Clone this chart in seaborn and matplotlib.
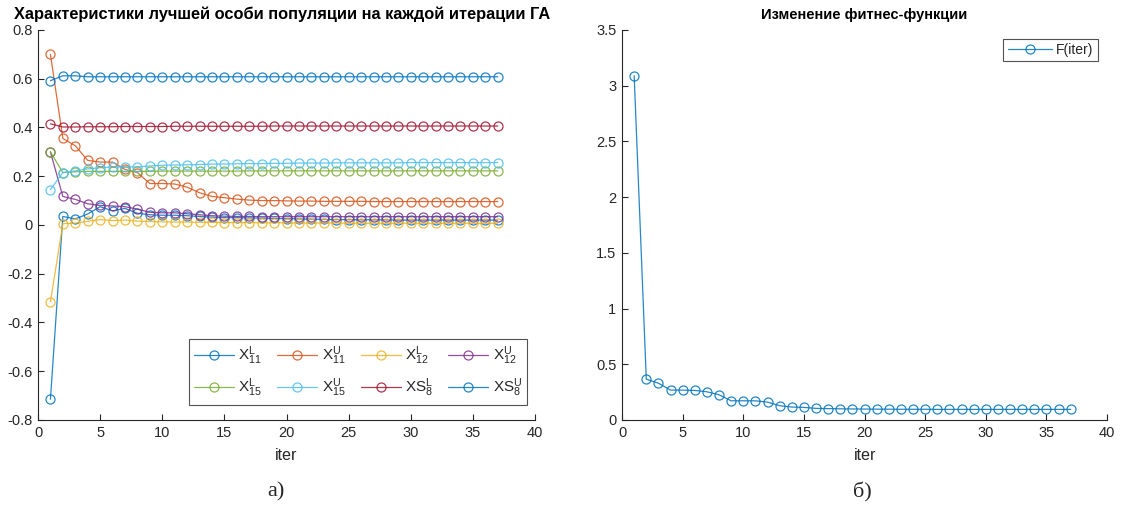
import numpy as np
import pandas as pd
import matplotlib
matplotlib.use("Agg")
import matplotlib.pyplot as plt
import seaborn as sns

iters = list(range(1, 38))

x11L = [-0.715, 0.035, 0.025, 0.045, 0.075, 0.058, 0.068, 0.048, 0.042, 0.040, 0.040, 0.038, 0.035,
        0.032, 0.030, 0.030, 0.029, 0.028, 0.027, 0.026, 0.025, 0.024, 0.023, 0.022, 0.022, 0.021,
        0.021, 0.021, 0.020, 0.020, 0.020, 0.020, 0.020, 0.020, 0.020, 0.020, 0.020]
x11U = [0.700, 0.355, 0.325, 0.265, 0.258, 0.258, 0.228, 0.215, 0.170, 0.170, 0.168, 0.155, 0.132,
        0.117, 0.112, 0.106, 0.102, 0.100, 0.100, 0.099, 0.098, 0.098, 0.097, 0.097, 0.097, 0.097,
        0.096, 0.096, 0.096, 0.096, 0.096, 0.096, 0.096, 0.096, 0.096, 0.096, 0.096]
x12L = [-0.315, 0.005, 0.008, 0.015, 0.022, 0.018, 0.020, 0.016, 0.014, 0.013, 0.012, 0.012, 0.011,
        0.011, 0.010, 0.010, 0.010, 0.009, 0.009, 0.009, 0.008, 0.008, 0.008, 0.008, 0.007, 0.007,
        0.007, 0.007, 0.007, 0.007, 0.007, 0.007, 0.007, 0.007, 0.007, 0.007, 0.007]
x12U = [0.300, 0.117, 0.105, 0.087, 0.080, 0.078, 0.075, 0.065, 0.052, 0.050, 0.050, 0.046, 0.042,
        0.038, 0.036, 0.035, 0.035, 0.034, 0.034, 0.034, 0.034, 0.034, 0.034, 0.034, 0.034, 0.034,
        0.034, 0.034, 0.034, 0.034, 0.034, 0.034, 0.034, 0.034, 0.034, 0.034, 0.034]
x15L = [0.300, 0.215, 0.218, 0.220, 0.220, 0.220, 0.220, 0.220, 0.220, 0.221, 0.221, 0.221, 0.221,
        0.221, 0.221, 0.221, 0.222, 0.222, 0.222, 0.222, 0.222, 0.222, 0.222, 0.222, 0.222, 0.222,
        0.222, 0.222, 0.222, 0.222, 0.222, 0.222, 0.222, 0.222, 0.222, 0.222, 0.222]
x15U = [0.145, 0.215, 0.222, 0.230, 0.235, 0.238, 0.238, 0.238, 0.242, 0.245, 0.246, 0.247, 0.248,
        0.250, 0.250, 0.251, 0.252, 0.252, 0.253, 0.253, 0.254, 0.254, 0.254, 0.255, 0.255, 0.255,
        0.255, 0.255, 0.255, 0.256, 0.256, 0.256, 0.256, 0.256, 0.256, 0.256, 0.256]
xs8L = [0.415, 0.402, 0.402, 0.403, 0.403, 0.403, 0.404, 0.404, 0.404, 0.404, 0.405, 0.405, 0.405,
        0.405, 0.405, 0.405, 0.405, 0.405, 0.406, 0.406, 0.406, 0.406, 0.406, 0.406, 0.406, 0.406,
        0.406, 0.406, 0.406, 0.406, 0.406, 0.406, 0.406, 0.406, 0.406, 0.406, 0.406]
xs8U = [0.592, 0.612, 0.612, 0.608, 0.608, 0.608, 0.608, 0.608, 0.608, 0.608, 0.608, 0.608, 0.608,
        0.608, 0.608, 0.608, 0.608, 0.608, 0.608, 0.608, 0.608, 0.608, 0.608, 0.608, 0.608, 0.608,
        0.608, 0.608, 0.608, 0.608, 0.608, 0.608, 0.608, 0.608, 0.608, 0.608, 0.608]

fitness = [3.09, 0.366, 0.330, 0.268, 0.268, 0.265, 0.253, 0.226, 0.172, 0.172, 0.172, 0.160, 0.128,
           0.116, 0.113, 0.104, 0.102, 0.100, 0.099, 0.098, 0.097, 0.097, 0.096, 0.096, 0.096, 0.095,
           0.095, 0.095, 0.095, 0.095, 0.095, 0.095, 0.095, 0.095, 0.095, 0.095, 0.095]

series_names = [r"X$^{L}_{11}$", r"X$^{U}_{11}$", r"X$^{L}_{12}$", r"X$^{U}_{12}$",
                r"X$^{L}_{15}$", r"X$^{U}_{15}$", r"XS$^{L}_{8}$", r"XS$^{U}_{8}$"]
series_vals = [x11L, x11U, x12L, x12U, x15L, x15U, xs8L, xs8U]
colors = ["#0072BD", "#D95319", "#EDB120", "#7E2F8E", "#77AC30", "#4DBEEE", "#A2142F", "#0072BD"]

title_left = "Характеристики лучшей особи популяции на каждой итерации ГА"
title_right = "Изменение фитнес-функции"

sns.set_theme(style="white")
plt.rcParams["font.family"] = ["Liberation Sans", "DejaVu Sans"]
plt.rcParams["mathtext.default"] = "regular"
plt.rcParams["xtick.direction"] = "in"
plt.rcParams["ytick.direction"] = "in"

fig = plt.figure(figsize=(11.21, 5.09), dpi=100)
ax1 = fig.add_axes([0.0339, 0.1749, 0.4434, 0.7662])
ax2 = fig.add_axes([0.5549, 0.1749, 0.4327, 0.7662])

mstyle = dict(marker="o", markersize=6.5, markerfacecolor="none", markeredgewidth=0.9,
              linewidth=0.9, alpha=0.85)
for name, vals, c in zip(series_names, series_vals, colors):
    sns.lineplot(x=iters, y=vals, ax=ax1, color=c, markeredgecolor=c, label=name, **mstyle)

sns.lineplot(x=iters, y=fitness, ax=ax2, color="#0072BD", markeredgecolor="#0072BD",
             label="F(iter)", **mstyle)

for ax in (ax1, ax2):
    ax.set_xlim(0, 40)
    ax.set_xticks(np.arange(0, 41, 5))
    for s in ("top", "right"):
        ax.spines[s].set_visible(False)
    for s in ("left", "bottom"):
        ax.spines[s].set_color("#262626")
        ax.spines[s].set_linewidth(0.8)
    ax.tick_params(axis="both", which="both", direction="in", length=4, width=0.8,
                   color="#262626", labelsize=10.5, labelcolor="#262626",
                   left=True, bottom=True, pad=4)
    ax.set_xlabel("iter", fontsize=11.5, color="#262626", labelpad=6)
    ax.set_ylabel("")

ax1.set_ylim(-0.8, 0.8)
ax1.set_yticks(np.round(np.arange(-0.8, 0.81, 0.2), 1))
ax1.set_yticklabels(["-0.8", "-0.6", "-0.4", "-0.2", "0", "0.2", "0.4", "0.6", "0.8"])
ax2.set_ylim(0, 3.5)
ax2.set_yticks(np.arange(0, 3.51, 0.5))
ax2.set_yticklabels(["0", "0.5", "1", "1.5", "2", "2.5", "3", "3.5"])

ax1.set_title(title_left, fontsize=11.8, fontweight="bold", color="#000000", pad=8, x=0.492)
ax2.set_title(title_right, fontsize=10.5, fontweight="bold", color="#000000", pad=8)

handles, labels = ax1.get_legend_handles_labels()
order = [0, 4, 1, 5, 2, 6, 3, 7]
leg1 = ax1.legend([handles[i] for i in order], [labels[i] for i in order],
                  loc="lower right", ncol=4, bbox_to_anchor=(1.0, 0.02), fontsize=11,
                  frameon=True, fancybox=False, edgecolor="#262626", handlelength=2.6,
                  columnspacing=1.0, handletextpad=0.3, borderpad=0.35, labelspacing=0.6)
leg1.get_frame().set_linewidth(0.8)
leg2 = ax2.legend(loc="upper right", bbox_to_anchor=(0.995, 0.995), fontsize=10,
                  frameon=True, fancybox=False, edgecolor="#262626", handlelength=3.2,
                  handletextpad=0.3, borderpad=0.3)
leg2.get_frame().set_linewidth(0.8)

fig.text(276 / 1121, 1 - 492 / 509, "а)", fontsize=16, family=["Liberation Serif", "DejaVu Serif"],
         ha="center", va="center")
fig.text(862 / 1121, 1 - 492 / 509, "б)", fontsize=16, family=["Liberation Serif", "DejaVu Serif"],
         ha="center", va="center")

fig.savefig("out.png", dpi=100, facecolor="white")
